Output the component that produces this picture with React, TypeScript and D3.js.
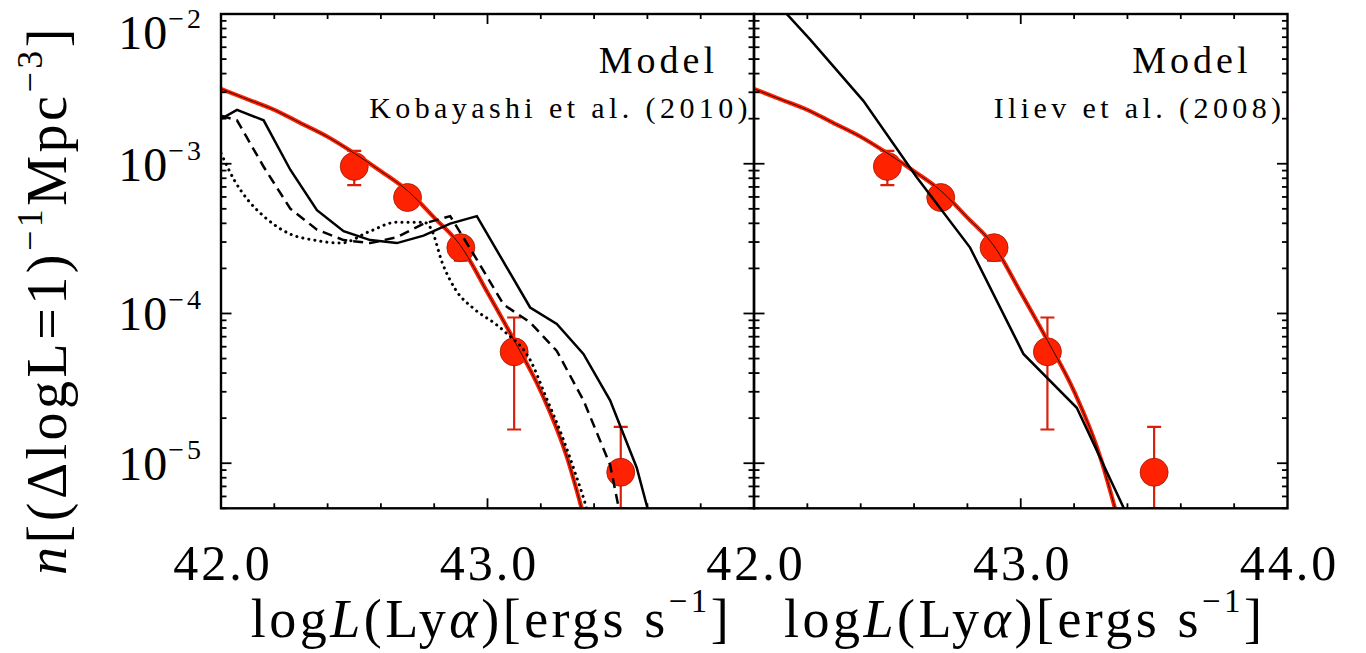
import * as d3 from "d3";

// observed Lya LF points (same in both panels)
const obsLogL = [42.5, 42.7, 42.9, 43.1, 43.5];
const obsN = [9.6e-4, 5.95e-4, 2.75e-4, 5.55e-5, 8.7e-6];
const obsHi = [1.22e-3, 6.8e-4, 3.2e-4, 9.4e-5, 1.75e-5];
const obsLo = [7.2e-4, 5.2e-4, 2.25e-4, 1.68e-5, 5e-6];

// red fit curve (log10 n)
const fitLogL = [42.0, 42.1, 42.2, 42.3, 42.4, 42.5, 42.6, 42.7, 42.8, 42.9, 43.0, 43.1, 43.2, 43.3, 43.35, 43.4];
const fitLogN = [-2.5, -2.57, -2.64, -2.73, -2.82, -2.93, -3.05, -3.18, -3.36, -3.55, -3.86, -4.18, -4.52, -4.97, -5.28, -5.62];

// Kobayashi et al. (2010) models, left panel
const kobSolidL = [42.0, 42.06, 42.16, 42.26, 42.36, 42.46, 42.56, 42.66, 42.76, 42.86, 42.96, 43.16, 43.26, 43.36, 43.46, 43.56, 43.66];
const kobSolidN = [-2.7, -2.64, -2.71, -3.04, -3.31, -3.45, -3.51, -3.53, -3.48, -3.4, -3.35, -3.96, -4.07, -4.27, -4.58, -5.03, -5.7];
const kobDashL = [42.0, 42.06, 42.16, 42.26, 42.36, 42.46, 42.56, 42.66, 42.76, 42.86, 42.96, 43.06, 43.16, 43.26, 43.36, 43.46, 43.56];
const kobDashN = [-2.68, -2.71, -3.02, -3.3, -3.44, -3.51, -3.53, -3.49, -3.4, -3.35, -3.64, -3.94, -4.06, -4.25, -4.58, -5.01, -5.9];
const kobDotL = [42.0, 42.05, 42.1, 42.16, 42.26, 42.35, 42.45, 42.56, 42.66, 42.76, 42.79, 42.83, 42.88, 42.95, 43.03, 43.07, 43.16, 43.22, 43.28, 43.33, 43.37, 43.42];
const kobDotN = [-2.93, -3.11, -3.24, -3.35, -3.47, -3.51, -3.53, -3.45, -3.39, -3.39, -3.44, -3.66, -3.84, -3.97, -4.07, -4.13, -4.31, -4.56, -4.82, -5.07, -5.29, -5.65];

// Iliev et al. (2008) model, right panel
const ilievL = [42.01, 42.21, 42.41, 42.61, 42.81, 43.01, 43.21, 43.41];
const ilievN = [-1.78, -2.17, -2.58, -3.09, -3.56, -4.27, -4.63, -5.39];

const xTickLabelsLeft = ["42.0", "43.0"];
const xTickLabelsRight = ["42.0", "43.0", "44.0"];
const yTickExps = [-2, -3, -4, -5];

const W = 1366;
const H = 653;
const TOP = 14;
const BOTTOM = 508.3;
const FONT = "'Liberation Serif', 'DejaVu Serif', serif";
const RED = "#ff2200";

const panels = [
  { id: "left", x0: 221, x1: 754, labels: xTickLabelsLeft, model: "Kobayashi et al. (2010)" },
  { id: "right", x0: 754, x1: 1287.5, labels: xTickLabelsRight, model: "Iliev et al. (2008)" },
];

const y = d3.scaleLog().domain([5e-6, 1e-2]).range([BOTTOM, TOP]);

type Pt = [number, number];
const toPts = (xs: number[], ys: number[]): Pt[] => xs.map((v, i) => [v, Math.pow(10, ys[i])]);

function Panel({ p }: { p: (typeof panels)[number] }) {
  const x = d3.scaleLinear().domain([42, 44]).range([p.x0, p.x1]);
  const line = d3
    .line<Pt>()
    .x((d) => x(d[0]))
    .y((d) => y(d[1]));
  const smooth = d3
    .line<Pt>()
    .x((d) => x(d[0]))
    .y((d) => y(d[1]))
    .curve(d3.curveMonotoneX);

  const xTicks = d3.range(0, 11).map((i) => 42 + i * 0.2);
  const yTicks = y.ticks();
  const clip = `clip-${p.id}`;
  const fitPath = smooth(toPts(fitLogL, fitLogN)) || "";

  return (
    <g>
      <defs>
        <clipPath id={clip}>
          <rect x={p.x0} y={TOP} width={p.x1 - p.x0} height={BOTTOM - TOP} />
        </clipPath>
      </defs>

      <g clipPath={`url(#${clip})`}>
        {/* error bars */}
        {obsLogL.map((l, i) => (
          <g key={"e" + i} stroke="#d8200a" strokeWidth={2.2}>
            <line x1={x(l)} x2={x(l)} y1={y(obsHi[i])} y2={y(obsLo[i])} />
            <line x1={x(l) - 7} x2={x(l) + 7} y1={y(obsHi[i])} y2={y(obsHi[i])} />
            <line x1={x(l) - 7} x2={x(l) + 7} y1={y(obsLo[i])} y2={y(obsLo[i])} />
          </g>
        ))}
        {obsLogL.map((l, i) => (
          <circle key={"c" + i} cx={x(l)} cy={y(obsN[i])} r={14} fill={RED} stroke="#a01800" strokeWidth={0.8} />
        ))}

        {/* fit */}
        <path d={fitPath} fill="none" stroke={RED} strokeWidth={4.2} />
        <path d={fitPath} fill="none" stroke="#000" strokeWidth={0.8} />

        {p.id === "left" ? (
          <g fill="none" stroke="#000" strokeWidth={2.5}>
            <path d={line(toPts(kobSolidL, kobSolidN)) || ""} />
            <path d={line(toPts(kobDashL, kobDashN)) || ""} strokeDasharray="10 6" />
            <path
              d={smooth(toPts(kobDotL, kobDotN)) || ""}
              strokeDasharray="0.1 6"
              strokeLinecap="round"
              strokeWidth={3}
            />
          </g>
        ) : (
          <path d={line(toPts(ilievL, ilievN)) || ""} fill="none" stroke="#000" strokeWidth={2.5} />
        )}
      </g>

      {/* frame + ticks */}
      <rect x={p.x0} y={TOP} width={p.x1 - p.x0} height={BOTTOM - TOP} fill="none" stroke="#000" strokeWidth={2.4} />
      <g stroke="#000" strokeWidth={1.8}>
        {xTicks.slice(1, -1).map((t) => {
          const len = Math.abs(t - Math.round(t)) < 1e-6 ? 10 : 5;
          return (
            <g key={"x" + t}>
              <line x1={x(t)} x2={x(t)} y1={BOTTOM} y2={BOTTOM - len} />
              <line x1={x(t)} x2={x(t)} y1={TOP} y2={TOP + len} />
            </g>
          );
        })}
        {yTicks.map((v) => {
          const m = v / Math.pow(10, Math.floor(Math.log10(v) + 1e-9));
          const len = Math.abs(m - 1) < 1e-6 ? 10.5 : 5.5;
          return (
            <g key={"y" + v}>
              <line x1={p.x0} x2={p.x0 + len} y1={y(v)} y2={y(v)} />
              <line x1={p.x1} x2={p.x1 - len} y1={y(v)} y2={y(v)} />
            </g>
          );
        })}
      </g>

      {/* x tick labels */}
      {p.labels.map((s) => (
        <text key={s} x={x(+s) + 2} y={580} textAnchor="middle" fontSize={50} letterSpacing={3}>
          {s}
        </text>
      ))}

      {/* x axis title */}
      <text x={(p.x0 + p.x1) / 2 + 4} y={637} textAnchor="middle" fontSize={54} letterSpacing={3.5}>
        <tspan>log</tspan>
        <tspan fontStyle="italic">L</tspan>
        <tspan>(Ly</tspan>
        <tspan fontStyle="italic">α</tspan>
        <tspan>)[ergs s</tspan>
        <tspan dy={-25} fontSize={33}>−1</tspan>
        <tspan dy={25}>]</tspan>
      </text>

      {/* annotations */}
      <text x={p.x1 - 36} y={73} textAnchor="end" fontSize={38} letterSpacing={4}>
        Model
      </text>
      <text x={p.x1 - 2} y={118} textAnchor="end" fontSize={30} letterSpacing={4.4}>
        {p.model}
      </text>
    </g>
  );
}

export default function App() {
  return (
    <svg
      width={W}
      height={H}
      viewBox={`0 0 ${W} ${H}`}
      style={{ position: "absolute", left: 0, top: 0, background: "#fff", fontFamily: FONT }}
      fill="#000"
    >
      {panels.map((p) => (
        <Panel key={p.id} p={p} />
      ))}

      {/* y tick labels */}
      {yTickExps.map((e) => {
        const ty = y(Math.pow(10, e));
        const base = Math.max(ty + 17, 49);
        return (
          <text key={e} x={204} y={base} textAnchor="end" fontSize={48} letterSpacing={1}>
            <tspan>10</tspan>
            <tspan dy={-21} fontSize={28} letterSpacing={3}>
              {"−" + Math.abs(e)}
            </tspan>
          </text>
        );
      })}

      {/* y axis title */}
      <text transform="translate(66,300) rotate(-90)" textAnchor="middle" fontSize={56} letterSpacing={3.5}>
        <tspan fontStyle="italic">n</tspan>
        <tspan>[(ΔlogL=1)</tspan>
        <tspan dy={-24} fontSize={36}>−1</tspan>
        <tspan dy={24}>Mpc</tspan>
        <tspan dy={-24} fontSize={36}>−3</tspan>
        <tspan dy={24}>]</tspan>
      </text>
    </svg>
  );
}
